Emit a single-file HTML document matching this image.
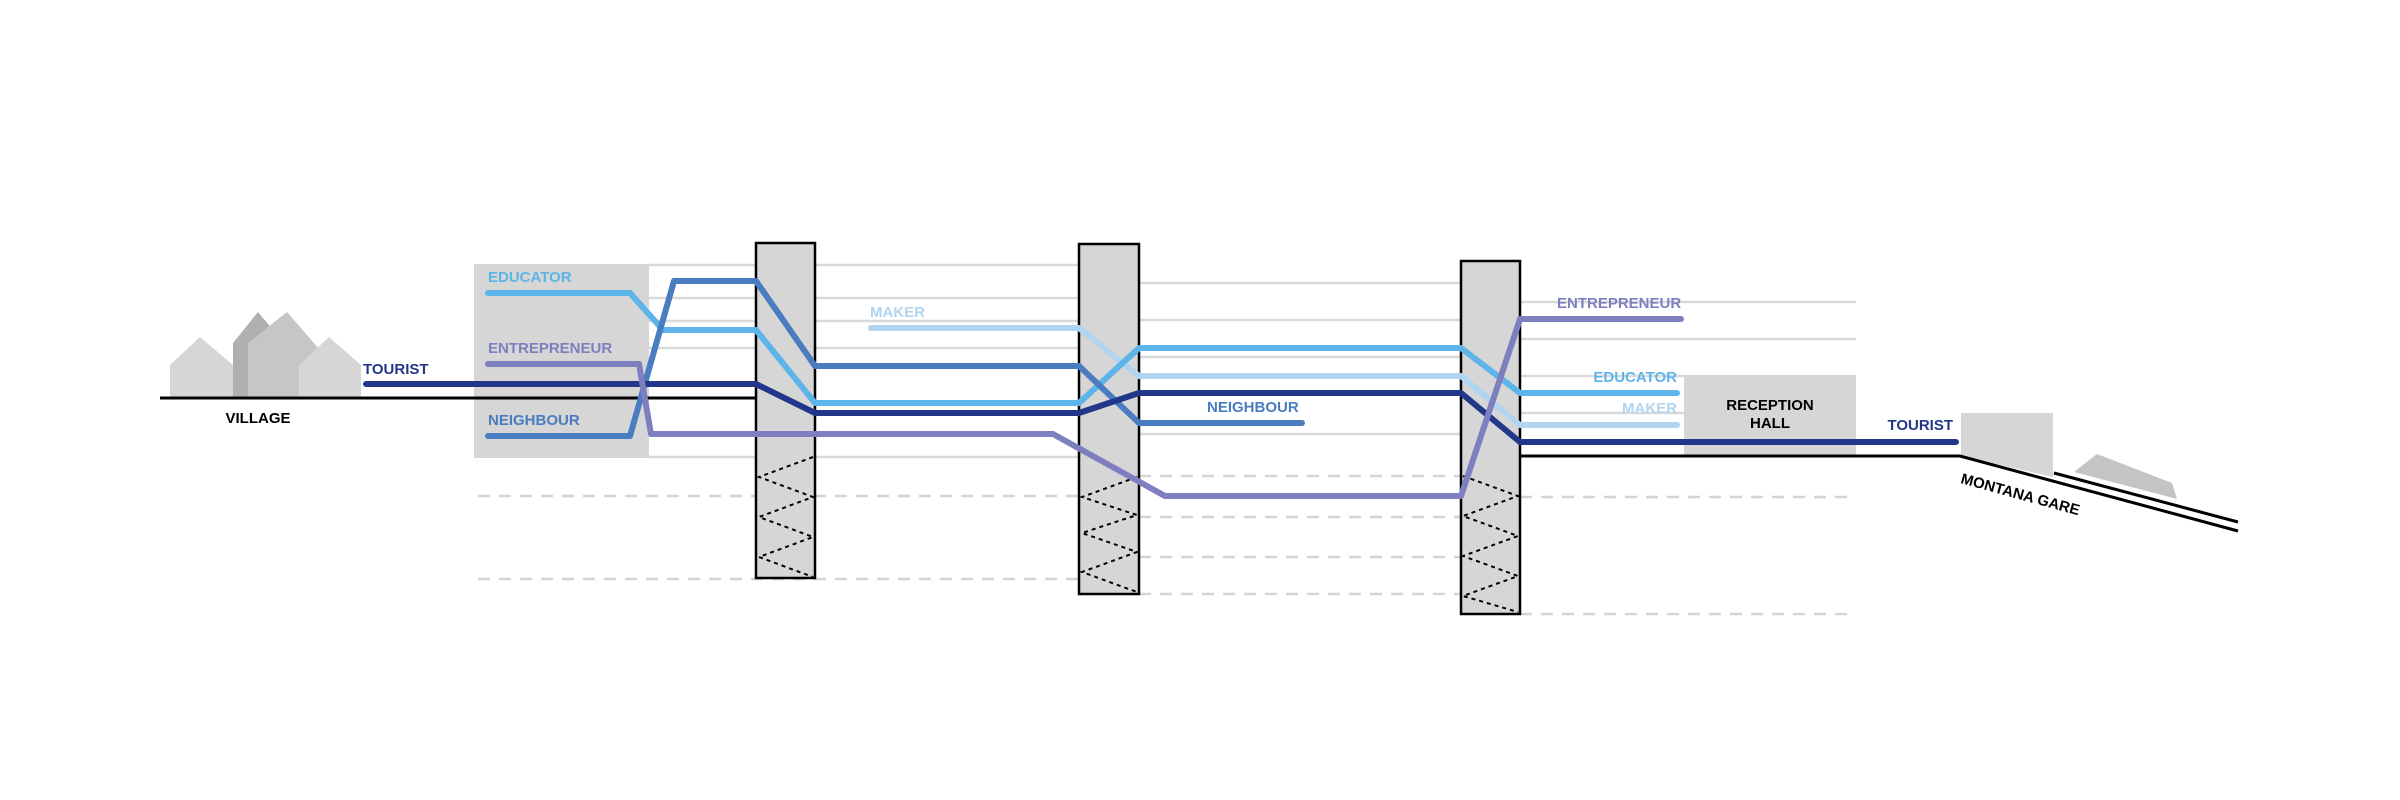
<!DOCTYPE html>
<html><head><meta charset="utf-8"><style>
html,body{margin:0;padding:0;background:#fff;}
svg{display:block;}
text{font-family:"Liberation Sans",sans-serif;font-weight:bold;font-size:15px;}
</style></head><body>
<svg width="2400" height="800" viewBox="0 0 2400 800" xmlns="http://www.w3.org/2000/svg">
<rect width="2400" height="800" fill="#fff"/>
<!-- houses -->
<polygon points="233,397 233,343 258,312 273,330 273,397" fill="#b0b0b0"/>
<polygon points="170,397 170,365 200,337 233,365 233,397" fill="#d6d6d6"/>
<polygon points="248,397 248,343 287,312 320,350 320,397" fill="#c6c6c6"/>
<polygon points="299,397 299,365 329,337 361,365 361,397" fill="#d6d6d6"/>
<!-- grey boxes -->
<rect x="474" y="264" width="175" height="194" fill="#d6d6d6"/>
<rect x="1684" y="375" width="172" height="80" fill="#d6d6d6"/>
<polygon points="1961,413 2053,413 2053,477 1961,456" fill="#d6d6d6"/>
<polygon points="2074,472 2097,454 2172,483 2177,499" fill="#c4c4c4"/>
<!-- thin grey lines -->
<g stroke="#d9d9d9" stroke-width="2.5">
<line x1="649" y1="265" x2="1079" y2="265"/><line x1="649" y1="298" x2="1079" y2="298"/>
<line x1="649" y1="321" x2="1079" y2="321"/>
<line x1="649" y1="348" x2="1079" y2="348"/><line x1="649" y1="457" x2="1079" y2="457"/>
<line x1="649" y1="434" x2="756" y2="434"/>
<line x1="1139" y1="283" x2="1461" y2="283"/><line x1="1139" y1="320" x2="1461" y2="320"/>
<line x1="1139" y1="357" x2="1461" y2="357"/><line x1="1139" y1="434" x2="1461" y2="434"/>
<line x1="1520" y1="302" x2="1856" y2="302"/><line x1="1520" y1="339" x2="1856" y2="339"/>
<line x1="1520" y1="376" x2="1684" y2="376"/><line x1="1520" y1="413" x2="1684" y2="413"/>
</g>
<g stroke="#d4d4d4" stroke-width="2.5" stroke-dasharray="12,9">
<line x1="478" y1="496" x2="1079" y2="496"/><line x1="478" y1="579" x2="1079" y2="579"/>
<line x1="1139" y1="476" x2="1461" y2="476"/><line x1="1139" y1="517" x2="1461" y2="517"/>
<line x1="1139" y1="557" x2="1461" y2="557"/><line x1="1139" y1="594" x2="1461" y2="594"/>
<line x1="1520" y1="497" x2="1856" y2="497"/><line x1="1520" y1="614" x2="1856" y2="614"/>
</g>
<!-- ground -->
<g stroke="#000" stroke-width="3" fill="none">
<line x1="160" y1="398" x2="756" y2="398"/>
<polyline points="1520,456 1960,456 2238,531"/>
<line x1="2054" y1="473" x2="2238" y2="522"/>
</g>
<!-- columns -->
<g fill="#d6d6d6" stroke="#000" stroke-width="2.5">
<rect x="756" y="243" width="59" height="335"/>
<rect x="1079" y="244" width="60" height="350"/>
<rect x="1461" y="261" width="59" height="353"/>
</g>
<g stroke="#000" stroke-width="2" stroke-dasharray="4,4" fill="none">
<polyline points="813,457 759,477 813,497 759,517 813,537 759,557 813,577"/>
<polyline points="1137,477 1082,497 1137,515 1082,533 1137,552 1082,572 1137,592"/>
<polyline points="1463,476 1518,496 1463,516 1518,536 1463,556 1518,576 1463,596 1518,612"/>
</g>
<!-- colored routes -->
<g fill="none" stroke-width="6" stroke-linecap="round" stroke-linejoin="round">
<polyline stroke="#b0d5f1" points="871,328 1079,328 1139,376 1461,376 1520,425 1677,425"/>
<polyline stroke="#5db4e8" points="488,293 630,293 663,330 756,330 815,403 1079,403 1139,348 1461,348 1520,393 1677,393"/>
<polyline stroke="#4a7cc0" points="488,436 630,436 674,281 756,281 815,366 1079,366 1139,423 1302,423"/>
<polyline stroke="#22378a" points="366,384 756,384 815,413 1079,413 1139,393 1461,393 1520,442 1956,442"/>
<polyline stroke="#7d7fbe" points="488,364 639,364 651,434 1053,434 1165,496 1461,496 1520,319 1681,319"/>
</g>
<!-- labels -->
<text x="488" y="282" fill="#5db4e8">EDUCATOR</text>
<text x="488" y="353" fill="#7d7fbe">ENTREPRENEUR</text>
<text x="488" y="425" fill="#4a7cc0">NEIGHBOUR</text>
<text x="363" y="374" fill="#22378a">TOURIST</text>
<text x="258" y="423" fill="#000" text-anchor="middle">VILLAGE</text>
<text x="870" y="317" fill="#b0d5f1">MAKER</text>
<text x="1207" y="412" fill="#4a7cc0">NEIGHBOUR</text>
<text x="1557" y="308" fill="#7d7fbe">ENTREPRENEUR</text>
<text x="1677" y="382" fill="#5db4e8" text-anchor="end">EDUCATOR</text>
<text x="1677" y="413" fill="#b0d5f1" text-anchor="end">MAKER</text>
<text x="1770" y="410" fill="#000" text-anchor="middle">RECEPTION</text>
<text x="1770" y="428" fill="#000" text-anchor="middle">HALL</text>
<text x="1953" y="430" fill="#22378a" text-anchor="end">TOURIST</text>
<text x="1960" y="483" fill="#000" transform="rotate(15.3 1960 483)">MONTANA GARE</text>
</svg>
</body></html>
